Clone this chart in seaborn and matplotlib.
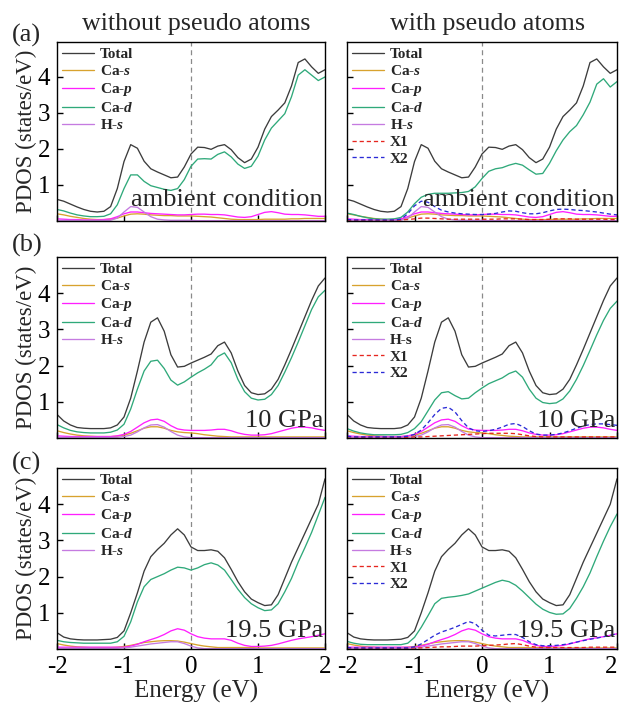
import numpy as np
import pandas as pd
import matplotlib
matplotlib.use("Agg")
import matplotlib.pyplot as plt
from matplotlib.font_manager import FontProperties
import seaborn as sns

# ---------------- data (PDOS, states/eV) ----------------
energy = [round(-2.0 + 0.1 * i, 1) for i in range(41)]

total_a = [0.60,0.55,0.47,0.39,0.32,0.27,0.25,0.27,0.40,0.90, 1.65,2.12,2.02,1.66,1.45,1.36,1.28,1.20,1.22,1.50,
           1.86,2.05,2.04,1.99,2.08,2.12,1.98,1.76,1.62,1.72, 2.05,2.55,2.90,3.08,3.28,3.75,4.40,4.50,4.28,4.10,4.20]
cad_a_left = [0.32,0.28,0.22,0.17,0.14,0.12,0.12,0.13,0.20,0.45, 0.90,1.28,1.28,1.10,0.98,0.93,0.88,0.85,0.90,1.15,
              1.52,1.72,1.73,1.72,1.85,1.92,1.78,1.58,1.46,1.52, 1.80,2.25,2.58,2.78,2.98,3.45,4.05,4.20,4.05,3.90,4.00]
cad_a_right = [0.22,0.18,0.13,0.09,0.06,0.05,0.05,0.06,0.10,0.25, 0.48,0.66,0.74,0.77,0.77,0.77,0.78,0.79,0.82,0.95,
               1.18,1.38,1.45,1.48,1.55,1.60,1.55,1.42,1.30,1.32, 1.60,1.95,2.25,2.48,2.65,2.95,3.30,3.80,3.95,3.72,3.87]
cap_a = [0.06,0.05,0.04,0.04,0.03,0.03,0.03,0.04,0.06,0.12, 0.20,0.25,0.25,0.23,0.21,0.20,0.19,0.18,0.17,0.17,
         0.18,0.19,0.19,0.18,0.18,0.17,0.14,0.11,0.10,0.12, 0.18,0.24,0.26,0.23,0.19,0.18,0.18,0.17,0.15,0.13,0.13]
cas_a = [0.20,0.17,0.13,0.10,0.07,0.05,0.04,0.04,0.05,0.08, 0.14,0.19,0.20,0.19,0.17,0.16,0.15,0.15,0.14,0.14,
         0.14,0.13,0.12,0.11,0.09,0.07,0.05,0.04,0.04,0.04, 0.04,0.05,0.05,0.05,0.05,0.06,0.06,0.07,0.07,0.07,0.07]
hs_a = [0.02,0.02,0.02,0.02,0.02,0.02,0.02,0.02,0.02,0.08, 0.25,0.40,0.38,0.25,0.12,0.05,0.03,0.02,0.02,0.02,
        0.02,0.01,0.01,0.01,0.01,0.01,0.01,0.01,0.01,0.01, 0.01,0.01,0.01,0.01,0.01,0.01,0.01,0.01,0.01,0.01,0.01]
x1_a = [0.02,0.02,0.02,0.02,0.02,0.02,0.02,0.02,0.03,0.04, 0.06,0.08,0.08,0.07,0.06,0.05,0.05,0.05,0.05,0.05,
        0.05,0.05,0.05,0.06,0.06,0.06,0.05,0.04,0.04,0.04, 0.05,0.06,0.06,0.06,0.05,0.05,0.05,0.05,0.05,0.04,0.04]
x2_a = [0.04,0.03,0.03,0.03,0.03,0.03,0.03,0.03,0.05,0.20, 0.42,0.55,0.52,0.40,0.30,0.25,0.22,0.20,0.19,0.18,
        0.18,0.19,0.21,0.25,0.28,0.27,0.23,0.20,0.20,0.23, 0.28,0.32,0.33,0.32,0.30,0.29,0.27,0.25,0.22,0.19,0.17]

total_b = [0.65,0.47,0.36,0.29,0.27,0.26,0.26,0.26,0.28,0.36, 0.58,1.10,1.85,2.65,3.20,3.32,2.95,2.30,1.96,1.98,
           2.07,2.15,2.23,2.32,2.55,2.65,2.35,1.85,1.45,1.25, 1.20,1.22,1.35,1.62,2.02,2.45,2.90,3.35,3.80,4.20,4.42]
cad_b_left = [0.37,0.28,0.21,0.17,0.15,0.14,0.14,0.14,0.16,0.22, 0.38,0.80,1.35,1.85,2.12,2.15,1.92,1.60,1.46,1.55,
              1.68,1.80,1.90,2.02,2.25,2.35,2.08,1.62,1.28,1.10, 1.05,1.07,1.20,1.45,1.82,2.22,2.65,3.10,3.55,3.90,4.08]
cad_b_right = [0.26,0.19,0.14,0.11,0.09,0.09,0.09,0.09,0.10,0.15, 0.26,0.45,0.75,1.05,1.25,1.28,1.17,1.08,1.10,1.25,
               1.38,1.50,1.58,1.66,1.78,1.85,1.68,1.35,1.10,0.98, 0.95,0.97,1.08,1.30,1.62,2.00,2.42,2.85,3.25,3.58,3.78]
cap_b = [0.06,0.05,0.04,0.04,0.04,0.04,0.04,0.04,0.04,0.06, 0.10,0.18,0.30,0.42,0.50,0.52,0.46,0.34,0.25,0.22,
         0.21,0.21,0.21,0.22,0.24,0.24,0.20,0.14,0.10,0.08, 0.08,0.09,0.12,0.17,0.22,0.27,0.30,0.30,0.28,0.24,0.21]
cas_b = [0.20,0.15,0.11,0.08,0.06,0.05,0.04,0.04,0.04,0.05, 0.08,0.13,0.20,0.27,0.31,0.31,0.27,0.21,0.17,0.15,
         0.14,0.12,0.09,0.07,0.05,0.04,0.03,0.03,0.03,0.03, 0.03,0.03,0.03,0.03,0.03,0.03,0.03,0.03,0.03,0.03,0.03]
hs_b = [0.02,0.02,0.02,0.02,0.02,0.02,0.02,0.02,0.02,0.02, 0.04,0.08,0.17,0.28,0.36,0.37,0.30,0.18,0.08,0.03,
        0.01,0.01,0.01,0.01,0.01,0.01,0.01,0.01,0.01,0.01, 0.01,0.01,0.01,0.01,0.01,0.01,0.01,0.01,0.01,0.01,0.01]
x1_b = [0.03,0.03,0.02,0.02,0.02,0.02,0.02,0.02,0.02,0.02, 0.03,0.03,0.04,0.05,0.06,0.07,0.08,0.09,0.10,0.11,
        0.12,0.13,0.13,0.13,0.13,0.12,0.09,0.06,0.04,0.03, 0.03,0.03,0.03,0.03,0.03,0.03,0.03,0.03,0.03,0.03,0.03]
x2_b = [0.05,0.03,0.03,0.03,0.03,0.03,0.03,0.03,0.03,0.05, 0.10,0.22,0.42,0.65,0.82,0.85,0.72,0.48,0.28,0.20,
        0.18,0.20,0.24,0.30,0.38,0.40,0.32,0.20,0.11,0.08, 0.08,0.10,0.14,0.20,0.27,0.33,0.37,0.39,0.39,0.37,0.35]

total_c = [0.45,0.33,0.28,0.26,0.25,0.25,0.25,0.26,0.27,0.32, 0.50,1.00,1.55,2.15,2.55,2.75,2.92,3.15,3.32,3.15,
           2.82,2.72,2.72,2.74,2.70,2.52,2.20,1.86,1.58,1.38, 1.28,1.20,1.22,1.50,1.95,2.40,2.80,3.20,3.60,4.00,4.70]
cad_c_left = [0.24,0.20,0.18,0.17,0.16,0.16,0.16,0.16,0.16,0.20, 0.35,0.75,1.30,1.72,1.92,2.00,2.08,2.18,2.26,2.24,
              2.18,2.24,2.33,2.38,2.32,2.18,1.92,1.65,1.42,1.25, 1.14,1.06,1.08,1.25,1.58,1.95,2.40,2.80,3.22,3.70,4.19]
cad_c_right = [0.21,0.16,0.13,0.12,0.12,0.12,0.12,0.12,0.12,0.16, 0.32,0.60,0.92,1.25,1.40,1.43,1.45,1.48,1.52,1.60,
               1.68,1.76,1.84,1.90,1.86,1.76,1.60,1.42,1.24,1.10, 1.01,0.96,0.97,1.12,1.40,1.72,2.10,2.55,2.98,3.38,3.73]
cap_c = [0.05,0.05,0.05,0.05,0.05,0.05,0.05,0.05,0.05,0.05, 0.05,0.08,0.13,0.20,0.26,0.32,0.40,0.50,0.56,0.52,
         0.42,0.34,0.30,0.28,0.28,0.28,0.24,0.16,0.10,0.07, 0.07,0.08,0.10,0.14,0.19,0.24,0.28,0.31,0.34,0.38,0.42]
cas_c = [0.15,0.11,0.08,0.06,0.05,0.04,0.04,0.04,0.04,0.05, 0.07,0.10,0.14,0.18,0.20,0.22,0.23,0.23,0.22,0.19,
         0.15,0.11,0.08,0.06,0.04,0.04,0.04,0.04,0.04,0.04, 0.03,0.03,0.03,0.03,0.03,0.03,0.03,0.03,0.03,0.03,0.03]
hs_c = [0.02,0.02,0.02,0.02,0.02,0.02,0.02,0.02,0.02,0.02, 0.03,0.05,0.08,0.11,0.14,0.16,0.18,0.20,0.20,0.15,
        0.08,0.03,0.01,0.01,0.01,0.01,0.01,0.01,0.01,0.01, 0.01,0.01,0.01,0.01,0.01,0.01,0.01,0.01,0.01,0.01,0.01]
x1_c = [0.03,0.03,0.02,0.02,0.02,0.02,0.02,0.02,0.02,0.02, 0.03,0.03,0.04,0.05,0.06,0.06,0.07,0.08,0.08,0.08,
        0.09,0.10,0.11,0.12,0.14,0.15,0.12,0.08,0.05,0.04, 0.04,0.04,0.04,0.04,0.04,0.04,0.05,0.05,0.05,0.05,0.05]
x2_c = [0.04,0.03,0.03,0.03,0.03,0.03,0.03,0.03,0.03,0.03, 0.06,0.14,0.26,0.38,0.47,0.53,0.60,0.68,0.76,0.70,
        0.52,0.38,0.36,0.38,0.40,0.40,0.32,0.20,0.12,0.09, 0.09,0.10,0.12,0.15,0.19,0.23,0.27,0.30,0.34,0.38,0.42]

column_titles = ["without pseudo atoms", "with pseudo atoms"]
panel_labels = ["(a)", "(b)", "(c)"]
conditions = ["ambient condition", "10 GPa", "19.5 GPa"]
x_ticks = [-2, -1, 0, 1, 2]
y_ticks = [1, 2, 3, 4]

# ---------------- style ----------------
sns.set_style("ticks")
plt.rcParams["font.family"] = ["Liberation Serif", "DejaVu Serif"]
plt.rcParams["mathtext.fontset"] = "custom"
plt.rcParams["mathtext.it"] = "Liberation Serif:italic:bold"
plt.rcParams["mathtext.rm"] = "Liberation Serif:bold"
plt.rcParams["axes.unicode_minus"] = False

colors = {"Total": "#3c3c3c", "Ca-s": "#d8a22e", "Ca-p": "#ff1fff",
          "Ca-d": "#2fa97a", "H-s": "#c57be0", "X1": "#e6261f", "X2": "#2b2bd6"}

rows = [
    dict(total=total_a, cad=(cad_a_left, cad_a_right), cap=cap_a, cas=cas_a, hs=hs_a, x1=x1_a, x2=x2_a, hs_it=True),
    dict(total=total_b, cad=(cad_b_left, cad_b_right), cap=cap_b, cas=cas_b, hs=hs_b, x1=x1_b, x2=x2_b, hs_it=False),
    dict(total=total_c, cad=(cad_c_left, cad_c_right), cap=cap_c, cas=cas_c, hs=hs_c, x1=x1_c, x2=x2_c, hs_it=False),
]

W, H = 620, 709
fig = plt.figure(figsize=(W / 100, H / 100), dpi=100)
col_px = [(57, 325), (347, 617)]
row_px = [(42, 221), (257, 438), (468, 649)]
cond_y = [0.085, 0.06, 0.066]
label_base = [42, 252, 470]

legend_font = FontProperties(family="Liberation Serif", weight="bold", size=11)

for r, rd in enumerate(rows):
    for c in range(2):
        x0, x1p = col_px[c]
        y0, y1p = row_px[r]
        ax = fig.add_axes([x0 / W, 1 - y1p / H, (x1p - x0) / W, (y1p - y0) / H])
        curves = [("Total", "Total", rd["total"], False),
                  ("Ca-s", "Ca-$\\it{s}$", rd["cas"], False),
                  ("Ca-p", "Ca-$\\it{p}$", rd["cap"], False),
                  ("Ca-d", "Ca-$\\it{d}$", rd["cad"][c], False),
                  ("H-s", "H-$\\it{s}$" if (c == 0 or rd["hs_it"]) else "H-s", rd["hs"], False)]
        if c == 1:
            curves += [("X1", "X1", rd["x1"], True), ("X2", "X2", rd["x2"], True)]
        handles = []
        for key, lab, vals, dashed in curves:
            df = pd.DataFrame({"E": energy, "PDOS": vals})
            sns.lineplot(data=df, x="E", y="PDOS", ax=ax, color=colors[key], lw=0.95,
                         errorbar=None, legend=False,
                         linestyle=(0, (3.2, 2.2)) if dashed else "-")
            ln = ax.lines[-1]
            ln.set_label(lab)
            handles.append(ln)
        ax.axvline(0, color="#8a8a8a", lw=0.9, ls=(0, (4, 3)), zorder=0)
        ax.set_xlim(-2, 2)
        ax.set_ylim(0, 4.97 if r == 0 else 5.0)
        ax.set_xticks(x_ticks)
        ax.set_yticks(y_ticks)
        ax.tick_params(direction="in", length=4, width=1, labelsize=18, pad=5,
                       top=False, right=False, colors="black")
        ax.tick_params(labelbottom=(r == 2), labelleft=(c == 0))
        if r == 2 and c == 1:
            # keep the last tick label inside the canvas, as in the reference
            ax.get_xticklabels()[-1].set_horizontalalignment("right")
            ax.get_xticklabels()[-1].set_x(2.0)
        for sp in ax.spines.values():
            sp.set_color("black")
            sp.set_linewidth(1.0)
        if c == 0:
            ax.set_ylabel("PDOS (states/eV)", fontsize=16.5)
            ax.yaxis.set_label_coords(-0.075, 0.5)
        else:
            ax.set_ylabel("")
        if r == 2:
            ax.set_xlabel("Energy (eV)", fontsize=18)
            ax.xaxis.set_label_coords(0.52, -0.17)
        else:
            ax.set_xlabel("")
        ax.legend(handles=handles, loc="upper left", bbox_to_anchor=(0.0, 1.0),
                  frameon=False, prop=legend_font, handlelength=2.1,
                  handletextpad=0.35, labelspacing=0.2, borderpad=0.2,
                  borderaxespad=0.15)
        ax.text(0.993, cond_y[r], conditions[r], transform=ax.transAxes,
                ha="right", va="baseline", fontsize=19)
        if r == 0:
            ax.text(0.52, 1.065, column_titles[c], transform=ax.transAxes,
                    ha="center", va="baseline", fontsize=18.7)
    fig.text(12 / W, 1 - label_base[r] / H, panel_labels[r], fontsize=19, va="baseline")

fig.savefig("out.png", dpi=100)
